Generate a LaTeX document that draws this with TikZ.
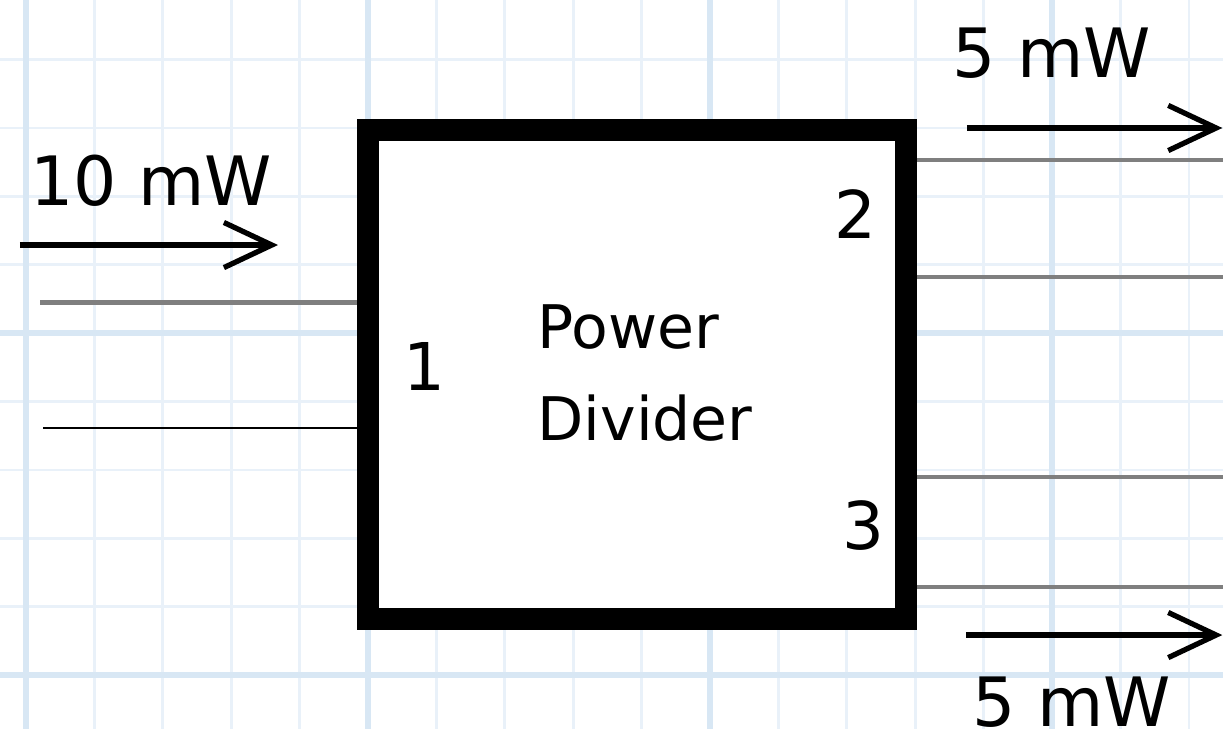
\documentclass[tikz,border=0pt]{standalone}
\usepackage{fontspec}
\setmainfont{DejaVu Sans}
\usetikzlibrary{arrows.meta, positioning}
\definecolor{gridminor}{HTML}{E9F1F9}
\definecolor{gridmajor}{HTML}{D8E7F4}
\definecolor{linegray}{HTML}{7F7F7F}

\tikzset{
  minorgrid/.style={draw=gridminor, line width=1.1pt},
  majorgrid/.style={draw=gridmajor, line width=2.2pt},
  tline/.style={draw=linegray, line width=2pt},
  flow/.style={-{Straight Barb[length=0.7cm, width=0.66cm]}, line width=2.2pt},
  powerlbl/.style={inner sep=0pt, anchor=base west, font=\fontsize{28.3}{34}\selectfont},
  portlbl/.style={inner sep=0pt, anchor=base, font=\fontsize{27.4}{33}\selectfont},
  titlelbl/.style={inner sep=0pt, anchor=base west, font=\fontsize{25}{30}\selectfont},
  divbox/.style={draw, fill=white, line width=9.1pt, minimum width=7.866cm, minimum height=7.149cm}
}

\begin{document}
\begin{tikzpicture}
  \useasboundingbox (0,0) rectangle (17.88,-10.658);
  % squared paper
  \foreach \x in {0,...,17}{
    \draw[minorgrid] (0.38+\x,0) -- (0.38+\x,-10.658);
  }
  \foreach \y in {-4,...,5}{
    \draw[minorgrid] (0,-4.87-\y) -- (17.88,-4.87-\y);
  }
  \foreach \x in {0.38,5.38,10.38,15.38}{
    \draw[majorgrid] (\x,0) -- (\x,-10.658);
  }
  \foreach \y in {4.87,9.87}{
    \draw[majorgrid] (0,-\y) -- (17.88,-\y);
  }

  % the divider
  \node[divbox] (pd) at (9.313,-5.475) {};
  \node[titlelbl] (pw) at (7.851,-5.088) {Power};
  \node[titlelbl] (dv) at (7.851,-6.433) {Divider};
  \node[portlbl] (p1) at (6.206,-5.702) {1};
  \node[portlbl] (p2) at (12.50,-3.480) {2};
  \node[portlbl] (p3) at (12.63,-8.040) {3};

  % port lines
  \coordinate (inA) at (0.585,-4.425);
  \coordinate (inB) at (0.629,-6.257);
  \coordinate (outA) at (17.9,-2.339);
  \coordinate (outB) at (17.9,-4.050);
  \coordinate (outC) at (17.9,-6.974);
  \coordinate (outD) at (17.9,-8.582);
  \draw[tline] (inA) -- (inA -| pd.west);
  \draw[line width=1.2pt] (inB) -- (inB -| pd.west);
  \draw[tline] (pd.east |- outA) -- (outA);
  \draw[tline] (pd.east |- outB) -- (outB);
  \draw[tline] (pd.east |- outC) -- (outC);
  \draw[tline] (pd.east |- outD) -- (outD);

  % power flow
  \coordinate (fin0) at (0.292,-3.582);
  \coordinate (fin1) at (4.064,-3.582);
  \coordinate (fa0) at (14.137,-1.871);
  \coordinate (fa1) at (17.87,-1.871);
  \coordinate (fb0) at (14.12,-9.284);
  \coordinate (fb1) at (17.87,-9.284);
  \draw[flow] (fin0) -- (fin1);
  \draw[flow] (fa0) -- (fa1);
  \draw[flow] (fb0) -- (fb1);
  \node[powerlbl] (pin) at (0.4386,-2.997) {10 mW};
  \node[powerlbl] (pa) at (13.918,-1.140) {5 mW};
  \node[powerlbl] (pb) at (14.21,-10.614) {5 mW};
\end{tikzpicture}
\end{document}
